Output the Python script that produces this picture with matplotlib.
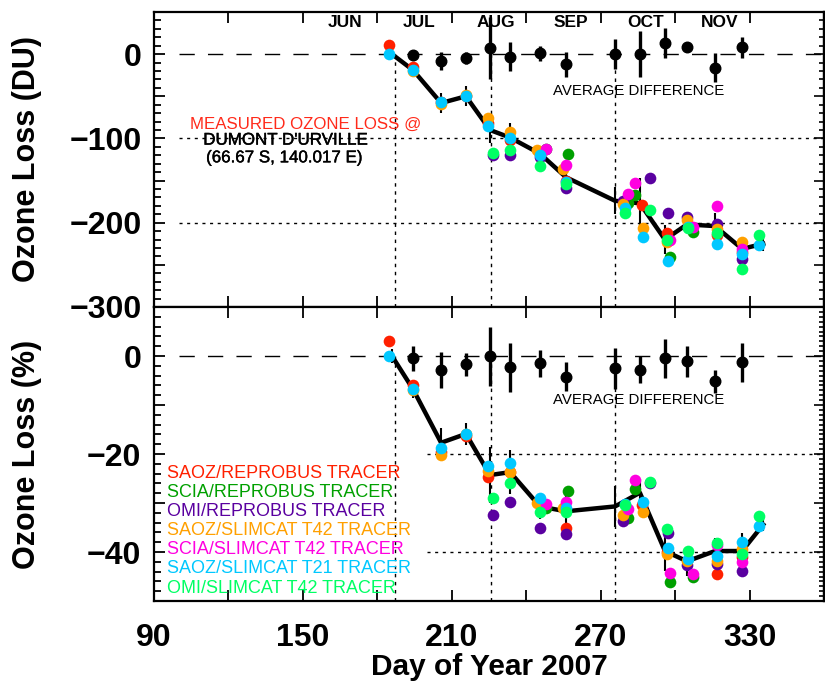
import numpy as np
import matplotlib
matplotlib.use('Agg')
import matplotlib.pyplot as plt
from matplotlib.ticker import MultipleLocator, FuncFormatter
import matplotlib.patheffects as pe

plt.rcParams['font.family'] = ['Liberation Sans', 'DejaVu Sans']

# mean ozone loss (black line) and spread
days_line = [185.9, 194.4, 205.7, 215.7, 225.4, 233.5, 245.5, 256.0, 275.8, 285.8, 295.9, 304.8, 316.1, 327.0, 335.5]
loss_du = [0, -19, -58, -50, -90, -99, -118, -146, -174, -177, -220, -202, -204, -231, -225]
loss_du_err = [5, 4, 12, 12, 16, 17, 9, 14, 16, 30, 17, 7, 15, 13, 8]
loss_pct = [0, -6.8, -17.7, -15.9, -24.3, -23.7, -30.7, -31.7, -30.7, -27.9, -39.8, -41.9, -39.8, -39.8, -34.4]
loss_pct_err = [1.5, 1.7, 3.0, 2.2, 5.8, 4.5, 2.5, 3.3, 4.2, 2.9, 4.0, 2.9, 2.7, 3.7, 1.3]

# average difference between the tracer estimates
days_avg = days_line[1:14]
avg_du = [-1, -8, -5, 7, -3, 1, -12, 0, 0, 13, 8, -16, 8]
avg_du_err = [3, 11, 7, 37, 17, 9, 15, 18, 27, 18, 3, 17, 12]
avg_pct = [-0.5, -2.9, -1.7, -0.1, -2.3, -1.5, -4.2, -2.5, -2.8, -0.5, -1.1, -5.2, -1.3]
avg_pct_err = [2.5, 3.7, 2.4, 6.0, 5.0, 2.8, 2.9, 4.2, 2.7, 4.0, 3.2, 2.4, 4.0]

# individual tracer estimates
saoz_rep_days = [184.7, 194.4, 205.7, 215.7, 224.6, 233.5, 245.5, 256.0, 286.7, 296.6, 316.8, 327.0]
saoz_rep_du = [11, -15, -57, -50, -82, -102, -118, -150, -179, -212, -215, -235]
saoz_rep_pct = [3.1, -6.0, -19.5, -16.3, -24.6, -23.6, -30.0, -35.2, -30.4, -40.0, -44.5, -41.0]

scia_rep_days = [248.0, 256.8, 281.0, 283.8, 297.9, 307.2]
scia_rep_du = [-113, -118, -177, -167, -241, -211]
scia_rep_pct = [-31.0, -27.5, -33.1, -27.2, -46.2, -45.1]

omi_rep_days = [226.6, 233.5, 245.5, 256.0, 279.0, 289.9, 297.1, 304.8, 316.8, 327.0]
omi_rep_du = [-120, -120, -122, -159, -174, -147, -189, -193, -202, -243]
omi_rep_pct = [-32.5, -29.7, -35.0, -36.3, -33.7, -25.9, -36.2, -42.7, -42.5, -43.9]

saoz_t42_days = [194.4, 205.7, 215.7, 224.6, 233.5, 244.5, 254.8, 279.0, 287.1, 296.6, 304.8, 316.8, 327.0]
saoz_t42_du = [-20, -59, -49, -76, -92, -114, -136, -178, -206, -223, -197, -207, -223]
saoz_t42_pct = [-7.0, -20.2, -16.0, -23.5, -23.6, -30.0, -31.0, -32.4, -31.9, -40.4, -41.9, -41.9, -39.3]

scia_t42_days = [248.0, 256.0, 281.0, 283.8, 297.9, 307.2, 316.8, 327.0]
scia_t42_du = [-112, -132, -166, -153, -221, -205, -180, -231]
scia_t42_pct = [-30.2, -29.7, -31.2, -25.3, -44.2, -44.5, -38.5, -42.1]

saoz_t21_days = [184.7, 194.4, 205.7, 215.7, 224.6, 233.5, 245.5, 256.0, 279.8, 287.1, 297.1, 305.0, 316.8, 327.0, 333.8]
saoz_t21_du = [0, -19, -57, -50, -85, -99, -120, -152, -182, -217, -245, -205, -225, -237, -227]
saoz_t21_pct = [0, -6.8, -18.8, -15.9, -22.4, -21.8, -28.9, -31.0, -30.2, -29.8, -39.1, -41.5, -40.9, -37.9, -34.6]

omi_t42_days = [226.6, 233.5, 245.5, 256.0, 279.8, 289.9, 296.6, 305.2, 316.8, 327.0, 333.8]
omi_t42_du = [-117, -114, -133, -154, -188, -185, -220, -206, -212, -255, -215]
omi_t42_pct = [-28.9, -25.9, -31.9, -31.9, -30.5, -25.7, -35.4, -39.8, -38.2, -40.4, -32.6]

tracer_names = ['SAOZ/REPROBUS TRACER', 'SCIA/REPROBUS TRACER', 'OMI/REPROBUS TRACER',
                'SAOZ/SLIMCAT T42 TRACER', 'SCIA/SLIMCAT T42 TRACER', 'SAOZ/SLIMCAT T21 TRACER',
                'OMI/SLIMCAT T42 TRACER']
tracer_colors = ['#ff2000', '#00a000', '#5a00a0', '#ffa000', '#ff00e0', '#00c8ff', '#00ff64']
tracer_days = [saoz_rep_days, scia_rep_days, omi_rep_days, saoz_t42_days, scia_t42_days, saoz_t21_days, omi_t42_days]
tracer_du = [saoz_rep_du, scia_rep_du, omi_rep_du, saoz_t42_du, scia_t42_du, saoz_t21_du, omi_t42_du]
tracer_pct = [saoz_rep_pct, scia_rep_pct, omi_rep_pct, saoz_t42_pct, scia_t42_pct, saoz_t21_pct, omi_t42_pct]

months = ['JUN', 'JUL', 'AUG', 'SEP', 'OCT', 'NOV']
month_days = [167, 197, 227.6, 257.8, 288, 318]
marker_days = [187.2, 225.8, 275.8]

fig = plt.figure(figsize=(8.25, 6.89), dpi=100)
ax1 = fig.add_axes([154/825, 1-307/689, 670/825, 295/689])
ax2 = fig.add_axes([154/825, 1-601/689, 670/825, 294/689])


def minus(v):
    return ('%d' % round(v)).replace('-', '\u2212')


def style(ax, ymin, ymax, lab_step, maj, mnr, rmaj, rmnr):
    ax.set_xlim(90, 360)
    ax.set_ylim(ymin, ymax)
    for s in ax.spines.values():
        s.set_linewidth(1.6)
    ax.xaxis.set_major_locator(MultipleLocator(30))
    ax.yaxis.set_major_locator(MultipleLocator(maj))
    ax.yaxis.set_minor_locator(MultipleLocator(mnr))
    ax.yaxis.set_major_formatter(FuncFormatter(
        lambda v, p: minus(v) if abs(round(v)) % lab_step == 0 else ''))
    ax.tick_params(axis='both', which='both', direction='in', width=1.3,
                   labelsize=23)
    ax.tick_params(axis='y', which='major', length=8, left=True, right=False, pad=9)
    ax.tick_params(axis='y', which='minor', length=5, left=True, right=False)
    ax.tick_params(axis='x', which='major', length=8, top=True, bottom=True, pad=16)
    for lab in ax.get_yticklabels() + ax.get_xticklabels():
        lab.set_fontweight('bold')
    # right-hand axis has its own, finer ticks
    sec = ax.secondary_yaxis('right')
    sec.yaxis.set_major_locator(MultipleLocator(rmaj))
    sec.yaxis.set_minor_locator(MultipleLocator(rmnr))
    sec.tick_params(which='both', direction='in', labelright=False, width=1.2)
    sec.tick_params(which='major', length=7)
    sec.tick_params(which='minor', length=3.5)
    sec.spines['right'].set_linewidth(1.6)


style(ax1, -300, 50, 100, 50, 10, 50, 10)
style(ax2, -50, 10, 20, 10, 2, 10, 1)
ax1.tick_params(axis='x', labelbottom=False)
ax2.xaxis.set_major_formatter(FuncFormatter(
    lambda v, p: '%d' % v if (round(v) - 90) % 60 == 0 else ''))
for lab in ax2.get_xticklabels():
    lab.set_fontweight('bold')

# reference lines
ax1.hlines(0, 100, 360, color='k', lw=1.0, linestyles=(0, (11, 9.5)), zorder=1)
ax1.hlines([-100, -200], 100, 360, color='k', lw=1.0, linestyles=(0, (2.2, 3.3)), zorder=1)
ax1.vlines(marker_days, -300, 0, color='k', lw=1.0, linestyles=(0, (2.5, 3.3)), zorder=1)
ax2.hlines(0, 100, 360, color='k', lw=1.0, linestyles=(0, (11, 9.5)), zorder=1)
ax2.hlines([-20, -40], 200, 360, color='k', lw=1.0, linestyles=(0, (2.2, 3.3)), zorder=1)
ax2.vlines(marker_days, -50, 0, color='k', lw=1.0, linestyles=(0, (2.5, 3.3)), zorder=1)

# mean loss with spread
ax1.errorbar(days_line, loss_du, yerr=loss_du_err, color='k', lw=3.2, elinewidth=1.5,
             capsize=0, zorder=2)
ax2.errorbar(days_line, loss_pct, yerr=loss_pct_err, color='k', lw=3.2, elinewidth=1.5,
             capsize=0, zorder=2)

# tracer estimates
for d, du, pc, c in zip(tracer_days, tracer_du, tracer_pct, tracer_colors):
    ax1.plot(d, du, 'o', color=c, ms=8.4, mec='none', zorder=3)
    ax2.plot(d, pc, 'o', color=c, ms=8.4, mec='none', zorder=3)

# average difference
ax1.errorbar(days_avg, avg_du, yerr=avg_du_err, fmt='o', color='k', ms=7.6,
             elinewidth=2.4, capsize=0, zorder=4)
ax2.errorbar(days_avg, avg_pct, yerr=avg_pct_err, fmt='o', color='k', ms=7.6,
             elinewidth=2.4, capsize=0, zorder=4)

for m, d in zip(months, month_days):
    ax1.text(d, 37, m, ha='center', va='center', fontsize=12.5, fontweight='bold')

ax1.text(285.2, -44, 'AVERAGE DIFFERENCE', ha='center', va='center', fontsize=10.8)
ax2.text(285.2, -9.0, 'AVERAGE DIFFERENCE', ha='center', va='center', fontsize=10.8)

thick = [pe.withStroke(linewidth=0.3, foreground='k')]
ax1.text(151, -83, 'MEASURED OZONE LOSS @', ha='center', va='center', fontsize=12.2,
         color='#ff2a1a')
ax1.text(142.8, -102, "DUMONT D'URVILLE", ha='center', va='center', fontsize=12.2,
         path_effects=thick)
ax1.text(142.4, -123, '(66.67 S, 140.017 E)', ha='center', va='center', fontsize=12.2,
         path_effects=thick)

for i, (name, c) in enumerate(zip(tracer_names, tracer_colors)):
    ax2.text(0.019, 0.435 - i*0.0652, name, transform=ax2.transAxes, color=c,
             ha='left', va='center', fontsize=13)

ax1.set_ylabel('Ozone Loss (DU)', fontsize=22, fontweight='bold')
ax2.set_ylabel('Ozone Loss (%)', fontsize=22, fontweight='bold')
ax1.yaxis.set_label_coords(-0.167, 0.5)
ax2.yaxis.set_label_coords(-0.167, 0.5)
ax2.set_xlabel('Day of Year 2007', fontsize=21.5, fontweight='bold', labelpad=0)

fig.savefig('out.png', dpi=100)
